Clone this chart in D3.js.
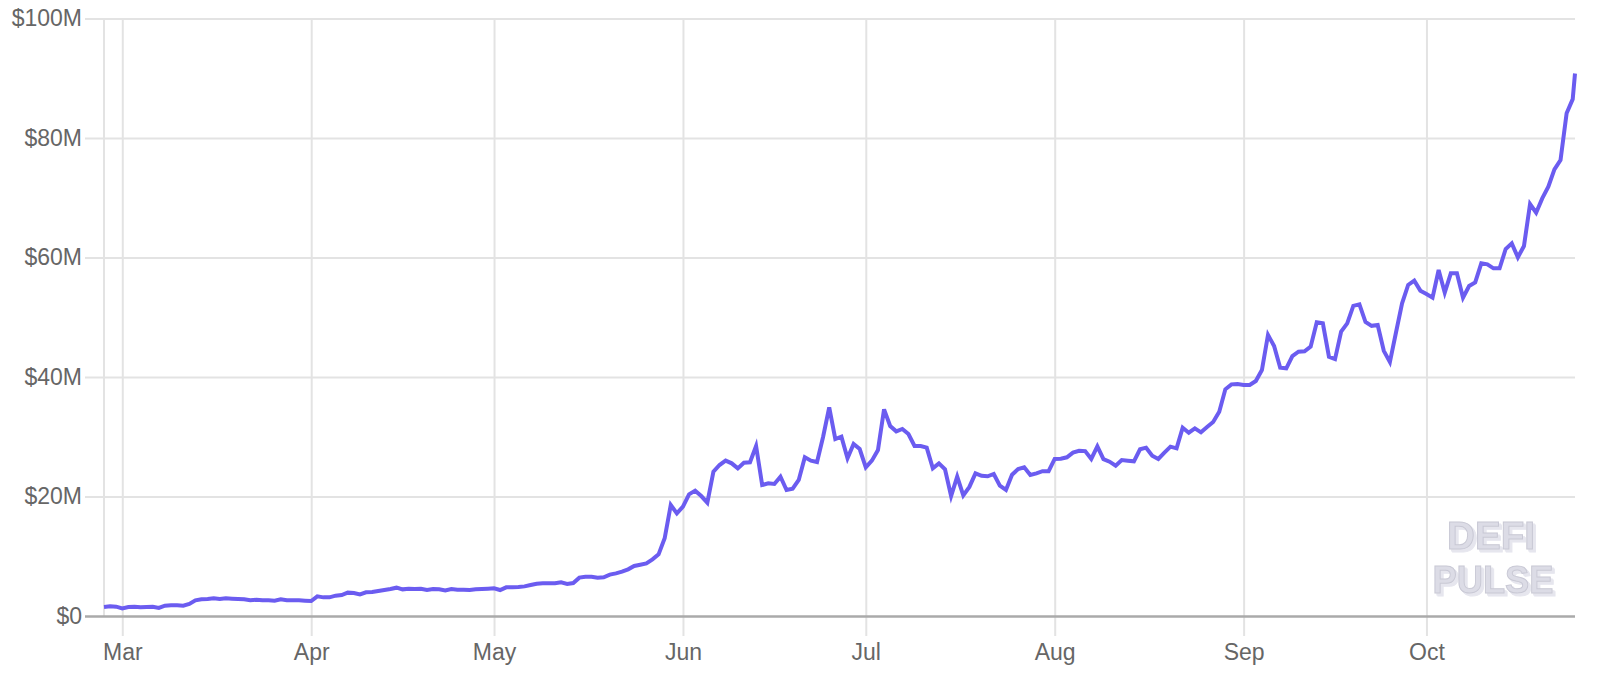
<!DOCTYPE html>
<html><head><meta charset="utf-8">
<script src="https://cdn.jsdelivr.net/npm/d3@7"></script>
<style>
html,body{margin:0;padding:0;background:#fff;}
svg{display:block;}
.axis text{font-family:"Liberation Sans",Arial,Helvetica,sans-serif;font-size:23px;fill:#666;}
</style></head><body>
<svg id="chart" width="1618" height="676"></svg>
<script>
// ---- data (TVL in USD millions, one value per day from startDate; last value is the live point) ----
const startDate = "2020-02-27";
const lastStamp = "2020-10-25T09:00:00Z";
const tvlMillions = [
 1.51,1.62,1.56,1.28,1.51,1.56,1.45,1.51,1.56,1.34,1.73,1.79,1.79,1.73,2.01,2.62,2.79,2.85,2.96,2.85,
 2.96,2.90,2.85,2.79,2.62,2.73,2.62,2.62,2.57,2.79,2.62,2.62,2.62,2.57,2.51,3.29,3.12,3.12,3.40,3.51,
 3.91,3.85,3.62,3.96,4.02,4.18,4.35,4.52,4.74,4.46,4.57,4.52,4.57,4.35,4.52,4.46,4.29,4.52,4.40,4.40,
 4.35,4.46,4.52,4.57,4.63,4.35,4.80,4.80,4.85,4.96,5.20,5.40,5.47,5.47,5.47,5.63,5.36,5.52,6.42,6.58,
 6.58,6.42,6.47,6.92,7.14,7.42,7.81,8.37,8.59,8.81,9.48,10.32,13.0,18.58,17.18,18.30,20.36,20.98,20.08,18.97,
 24.16,25.27,26.0,25.55,24.71,25.66,25.72,28.45,21.92,22.20,22.09,23.32,21.09,21.31,22.76,26.56,26.0,25.77,30.0,34.92,
 29.62,30.0,26.39,28.79,27.95,24.88,26.0,27.78,34.59,31.8,30.9,31.3,30.46,28.45,28.45,28.17,24.71,25.55,24.55,20.08,
 23.32,20.2,21.6,23.88,23.46,23.38,23.77,21.8,21.09,23.65,24.58,24.88,23.6,23.88,24.24,24.24,26.28,26.33,26.56,27.34,
 27.65,27.6,26.28,28.4,26.25,25.83,25.16,26.11,26.0,25.89,27.9,28.17,26.83,26.28,27.34,28.34,28.06,31.52,30.68,31.41,
 30.74,31.63,32.47,34.2,37.94,38.77,38.83,38.66,38.66,39.33,41.17,47.03,45.19,41.56,41.45,43.51,44.24,44.29,45.08,49.15,
 48.98,43.4,43.0,47.59,48.98,51.9,52.15,49.2,48.56,48.7,44.38,42.5,47.45,52.33,55.4,56.12,54.45,53.89,53.28,57.91,
 54.11,57.35,57.35,53.28,55.23,55.84,59.02,58.86,58.19,58.19,61.42,62.37,60.03,61.92,68.95,67.5,69.9,71.85,74.76,76.32,
 84.13,86.5,90.8
];
const yTicks = [0, 20, 40, 60, 80, 100];
const yTickLabels = ["$0", "$20M", "$40M", "$60M", "$80M", "$100M"];
const monthTicks = ["2020-03-01","2020-04-01","2020-05-01","2020-06-01","2020-07-01","2020-08-01","2020-09-01","2020-10-01"];
const monthLabels = ["Mar","Apr","May","Jun","Jul","Aug","Sep","Oct"];
const watermarkLines = ["DEFI", "PULSE"];

// ---- build series ----
const parseDay = d3.utcParse("%Y-%m-%d");
const t0 = parseDay(startDate);
const series = tvlMillions.map((v, i) => ({
  date: i === tvlMillions.length - 1 ? new Date(lastStamp) : d3.utcDay.offset(t0, i),
  value: v
}));
const tickDates = monthTicks.map(parseDay);

// ---- layout ----
const svg = d3.select("#chart");
const plot = {left: 104, right: 1575, top: 18.5, bottom: 616};
const x = d3.scaleUtc().domain(d3.extent(series, d => d.date)).range([plot.left, plot.right]);
const y = d3.scaleLinear().domain([0, 100]).range([plot.bottom, plot.top]);

// defs: 3D extrusion filter for the watermark
const defs = svg.append("defs");
const f = defs.append("filter").attr("id", "extrude")
  .attr("x", "-10%").attr("y", "-10%").attr("width", "130%").attr("height", "140%");
f.append("feOffset").attr("in", "SourceAlpha").attr("dx", 1.5).attr("dy", 1.5).attr("result", "o1");
f.append("feOffset").attr("in", "SourceAlpha").attr("dx", 3).attr("dy", 3).attr("result", "o2");
f.append("feMerge").attr("result", "ext").call(m => {
  m.append("feMergeNode").attr("in", "o1");
  m.append("feMergeNode").attr("in", "o2");
});
f.append("feFlood").attr("flood-color", "#e6e6ee").attr("result", "col");
f.append("feComposite").attr("in", "col").attr("in2", "ext").attr("operator", "in").attr("result", "shadow");
f.append("feMerge").call(m => {
  m.append("feMergeNode").attr("in", "shadow");
  m.append("feMergeNode").attr("in", "SourceGraphic");
});

// x axis (vertical gridlines extending below the baseline)
const tickExt = 20;
const xAxis = d3.axisBottom(x).tickValues(tickDates)
  .tickFormat((d, i) => monthLabels[i])
  .tickSizeInner(-(plot.bottom + tickExt - plot.top)).tickSizeOuter(0).tickPadding(8);
const gx = svg.append("g").attr("class", "axis x")
  .attr("transform", `translate(0,${plot.bottom + tickExt})`).call(xAxis);
gx.select(".domain").remove();
gx.selectAll(".tick line").attr("stroke", "#e3e3e3").attr("stroke-width", 2);
gx.selectAll(".tick text").attr("y", 8).attr("dy", "0.71em");

// left plot border
svg.append("line").attr("x1", plot.left).attr("x2", plot.left)
  .attr("y1", plot.top).attr("y2", plot.bottom)
  .attr("stroke", "#e3e3e3").attr("stroke-width", 2);

// y axis (horizontal gridlines starting left of the plot)
const yAxisX = 85;
const yAxis = d3.axisLeft(y).tickValues(yTicks)
  .tickFormat((d, i) => yTickLabels[i])
  .tickSizeInner(-(plot.right - yAxisX)).tickSizeOuter(0).tickPadding(3);
const gy = svg.append("g").attr("class", "axis y")
  .attr("transform", `translate(${yAxisX},0)`).call(yAxis);
gy.select(".domain").remove();
gy.selectAll(".tick line")
  .attr("stroke", d => d === 0 ? "#aaaaaa" : "#e3e3e3")
  .attr("stroke-width", d => d === 0 ? 2.5 : 2);
gy.selectAll(".tick").filter(d => d === 0).raise();

// watermark
const wmPos = [{cx: 1491, base: 549, len: 88}, {cx: 1493, base: 593, len: 121}];
const wm = svg.append("g").attr("font-family", "'Liberation Sans', Arial, sans-serif")
  .attr("font-weight", 700).attr("font-size", 39).attr("text-anchor", "middle")
  .attr("fill", "#dcdce6").attr("stroke", "#c9c9d5").attr("stroke-width", 1)
  .attr("filter", "url(#extrude)");
watermarkLines.forEach((t, i) => {
  const p = wmPos[i];
  wm.append("text").attr("x", p.cx).attr("y", p.base).text(t)
    .attr("textLength", p.len).attr("lengthAdjust", "spacingAndGlyphs");
});

// line
const line = d3.line().x(d => x(d.date)).y(d => y(d.value));
svg.append("path").datum(series).attr("d", line)
  .attr("fill", "none").attr("stroke", "#6b5cf0").attr("stroke-width", 4)
  .attr("stroke-linejoin", "miter").attr("stroke-miterlimit", 4);
</script>
</body></html>
